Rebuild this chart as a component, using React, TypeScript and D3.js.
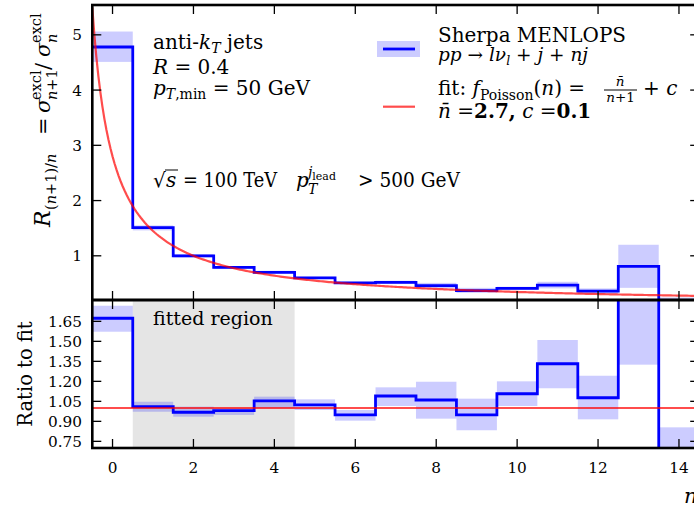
import React from "react";
import * as d3 from "d3";

// ---------- data ----------
const bins = [0, 1, 2, 3, 4, 5, 6, 7, 8, 9, 10, 11, 12, 13, 14];
// R_(n+1)/n (upper panel)
const rateVals = [4.78, 1.51, 1.0, 0.79, 0.7, 0.6, 0.51, 0.52, 0.46, 0.37, 0.41, 0.47, 0.36, 0.81, 0.14];
const rateLo = [4.51, 1.46, 0.97, 0.76, 0.68, 0.58, 0.49, 0.49, 0.41, 0.33, 0.38, 0.41, 0.31, 0.42, 0.05];
const rateHi = [5.06, 1.55, 1.03, 0.81, 0.73, 0.62, 0.53, 0.55, 0.51, 0.42, 0.44, 0.53, 0.41, 1.2, 0.245];
// ratio to fit (lower panel)
const ratioVals = [1.673, 1.01, 0.968, 0.98, 1.053, 1.023, 0.948, 1.09, 1.06, 0.948, 1.107, 1.332, 1.077, 2.76, 0.5];
const ratioLo = [1.572, 0.972, 0.935, 0.948, 0.998, 0.985, 0.905, 1.015, 0.92, 0.833, 1.015, 1.148, 0.915, 1.325, 0.1];
const ratioHi = [1.767, 1.047, 1.01, 0.998, 1.085, 1.065, 0.985, 1.155, 1.197, 1.07, 1.2, 1.51, 1.242, 4.0, 0.855];
// fit parameters (from legend) and fitted region
const fitNbar = 2.7;
const fitC = 0.1;
const fitRegion = [0.5, 4.5];
const xTicks = [0, 2, 4, 6, 8, 10, 12, 14];
const yTicksTop = [1, 2, 3, 4, 5];
const yTicksBottom = [0.75, 0.9, 1.05, 1.2, 1.35, 1.5, 1.65];

// ---------- layout ----------
const W = 694;
const H = 512;
const xL = 92.3;
const xR = 699.2;
const topY0 = 5;
const topY1 = 300;
const botY0 = 300;
const botY1 = 448;
const FONT = "DejaVu Serif";
const BLUE = "#0000ff";
const RED = "#ff0000";
const TICK = 9;

export default function App() {
  const x = d3.scaleLinear().domain([-0.5, 14.5]).range([xL, xR]);
  const yT = d3.scaleLinear().domain([0.2, 5.54]).range([topY1, topY0]);
  const yB = d3.scaleLinear().domain([0.7, 1.81]).range([botY1, botY0]);

  const stepPts = (vals: number[]) => {
    const pts: [number, number][] = bins.map((b, i) => [b - 0.5, vals[i]]);
    pts.push([bins[bins.length - 1] + 0.5, vals[vals.length - 1]]);
    return pts;
  };
  const stepTop = d3
    .line<[number, number]>()
    .x((d) => x(d[0]))
    .y((d) => yT(d[1]))
    .curve(d3.curveStepAfter)(stepPts(rateVals)) as string;
  const stepBot = d3
    .line<[number, number]>()
    .x((d) => x(d[0]))
    .y((d) => yB(d[1]))
    .curve(d3.curveStepAfter)(stepPts(ratioVals)) as string;

  const fitXs = d3.range(-0.5, 14.5001, 0.05);
  const fitPath = d3
    .line<number>()
    .x((d) => x(d))
    .y((d) => yT(fitNbar / (d + 1) + fitC))(fitXs) as string;

  const tickText = { fontFamily: FONT, fontSize: 15.3, fill: "#000" } as const;
  const txt = { fontFamily: FONT, fontSize: 20, fill: "#000" } as const;

  return (
    <svg
      width={W}
      height={H}
      style={{ position: "absolute", left: 0, top: 0, background: "#fff" }}
      xmlns="http://www.w3.org/2000/svg"
    >
      <defs>
        <clipPath id="clipTop">
          <rect x={xL} y={topY0} width={xR - xL} height={topY1 - topY0} />
        </clipPath>
        <clipPath id="clipBot">
          <rect x={xL} y={botY0} width={xR - xL} height={botY1 - botY0} />
        </clipPath>
      </defs>
      <rect x={0} y={0} width={W} height={H} fill="#fff" />

      {/* ---------- upper panel ---------- */}
      <g clipPath="url(#clipTop)">
        {bins.map((b, i) => (
          <rect
            key={"bt" + i}
            x={x(b - 0.5)}
            width={x(b + 0.5) - x(b - 0.5)}
            y={yT(rateHi[i])}
            height={yT(rateLo[i]) - yT(rateHi[i])}
            fill={BLUE}
            fillOpacity={0.2}
          />
        ))}
        <path d={stepTop} fill="none" stroke={BLUE} strokeWidth={2.8} />
        <path d={fitPath} fill="none" stroke={RED} strokeOpacity={0.7} strokeWidth={2.2} />
      </g>

      {/* ---------- lower panel ---------- */}
      <g clipPath="url(#clipBot)">
        <rect
          x={x(fitRegion[0])}
          width={x(fitRegion[1]) - x(fitRegion[0])}
          y={botY0}
          height={botY1 - botY0}
          fill="#e5e5e5"
        />
        {bins.map((b, i) => (
          <rect
            key={"bb" + i}
            x={x(b - 0.5)}
            width={x(b + 0.5) - x(b - 0.5)}
            y={yB(ratioHi[i])}
            height={yB(ratioLo[i]) - yB(ratioHi[i])}
            fill={BLUE}
            fillOpacity={0.2}
          />
        ))}
        <path d={stepBot} fill="none" stroke={BLUE} strokeWidth={2.8} />
        <line x1={xL} x2={xR} y1={yB(1)} y2={yB(1)} stroke={RED} strokeOpacity={0.7} strokeWidth={2.2} />
      </g>

      {/* ---------- ticks ---------- */}
      {xTicks.map((t) => (
        <g key={"xt" + t} stroke="#000" strokeWidth={1.3}>
          <line x1={x(t)} x2={x(t)} y1={topY0} y2={topY0 + TICK} />
          <line x1={x(t)} x2={x(t)} y1={topY1} y2={topY1 - TICK} />
          <line x1={x(t)} x2={x(t)} y1={botY0} y2={botY0 + TICK} />
          <line x1={x(t)} x2={x(t)} y1={botY1} y2={botY1 - TICK} />
        </g>
      ))}
      {yTicksTop.map((t) => (
        <g key={"yt" + t} stroke="#000" strokeWidth={1.3}>
          <line x1={xL} x2={xL + TICK} y1={yT(t)} y2={yT(t)} />
          <line x1={xR} x2={xR - TICK} y1={yT(t)} y2={yT(t)} />
        </g>
      ))}
      {yTicksBottom.map((t) => (
        <g key={"yb" + t} stroke="#000" strokeWidth={1.3}>
          <line x1={xL} x2={xL + TICK} y1={yB(t)} y2={yB(t)} />
          <line x1={xR} x2={xR - TICK} y1={yB(t)} y2={yB(t)} />
        </g>
      ))}

      {/* ---------- spines ---------- */}
      <rect x={xL} y={topY0} width={xR - xL} height={topY1 - topY0} fill="none" stroke="#000" strokeWidth={2.6} />
      <rect x={xL} y={botY0} width={xR - xL} height={botY1 - botY0} fill="none" stroke="#000" strokeWidth={2.6} />

      {/* ---------- tick labels ---------- */}
      {xTicks.map((t) => (
        <text key={"xl" + t} x={x(t)} y={472.5} textAnchor="middle" {...tickText}>
          {String(t)}
        </text>
      ))}
      {yTicksTop.map((t) => (
        <text key={"ytl" + t} x={82} y={yT(t) + 5.5} textAnchor="end" {...tickText}>
          {String(t)}
        </text>
      ))}
      {yTicksBottom.map((t) => (
        <text key={"ybl" + t} x={82} y={yB(t) + 5.5} textAnchor="end" {...tickText}>
          {t.toFixed(2)}
        </text>
      ))}

      {/* ---------- axis labels ---------- */}
      <g transform="translate(50,227) rotate(-90)" fontFamily={FONT} fill="#000">
        <text x={0} y={0} fontSize={22} fontStyle="italic">R</text>
        <text x={17} y={6} fontSize={14.5}>
          (<tspan fontStyle="italic">n</tspan>+1)/<tspan fontStyle="italic">n</tspan>
        </text>
        <text x={92} y={0} fontSize={21}>=</text>
        <text x={114} y={0} fontSize={21} fontStyle="italic">σ</text>
        <text x={127} y={-9} fontSize={14.5}>excl</text>
        <text x={127} y={7} fontSize={14.5}>
          <tspan fontStyle="italic">n</tspan>+1
        </text>
        <text x={157} y={0} fontSize={21}>/</text>
        <text x={170} y={0} fontSize={21} fontStyle="italic">σ</text>
        <text x={184} y={-9} fontSize={14.5}>excl</text>
        <text x={184} y={7} fontSize={14.5} fontStyle="italic">n</text>
      </g>
      <text
        transform="translate(32,374) rotate(-90)"
        textAnchor="middle"
        fontFamily={FONT}
        fontSize={19.5}
        fill="#000"
      >
        Ratio to fit
      </text>
      <text x={684} y={503} fontFamily={FONT} fontSize={21} fontStyle="italic" fill="#000">
        n
      </text>

      {/* ---------- annotations ---------- */}
      <text x={153} y={48.5} {...txt}>
        anti-<tspan fontStyle="italic">k</tspan>
        <tspan fontStyle="italic" fontSize={14} dy={4}>T</tspan>
        <tspan dy={-4}> jets</tspan>
      </text>
      <text x={153} y={73.5} {...txt}>
        <tspan fontStyle="italic">R</tspan> = 0.4
      </text>
      <text x={153} y={95} {...txt}>
        <tspan fontStyle="italic">p</tspan>
        <tspan fontSize={14} dy={4}>
          <tspan fontStyle="italic">T</tspan>,min
        </tspan>
        <tspan dy={-4}> = 50 GeV</tspan>
      </text>
      <text x={153} y={186.5} fontFamily={FONT} fontSize={20} fill="#000">√</text>
      <line x1={165} x2={178} y1={170} y2={170} stroke="#000" strokeWidth={1} />
      <text x={166} y={186.5} fontFamily={FONT} fontSize={20} fontStyle="italic" fill="#000">s</text>
      <text x={183} y={186.5} fontFamily={FONT} fontSize={20} fill="#000" textLength={94} lengthAdjust="spacingAndGlyphs">
        = 100 TeV
      </text>
      <text x={296} y={186.5} fontFamily={FONT} fontSize={20} fontStyle="italic" fill="#000">p</text>
      <text x={308} y={194} fontFamily={FONT} fontSize={14} fontStyle="italic" fill="#000">T</text>
      <text x={308} y={177} fontFamily={FONT} fontSize={14} fill="#000">
        <tspan fontStyle="italic">j</tspan>
        <tspan fontSize={11} dy={3}>lead</tspan>
      </text>
      <text x={358} y={186.5} fontFamily={FONT} fontSize={20} fill="#000" textLength={102} lengthAdjust="spacingAndGlyphs">
        &gt; 500 GeV
      </text>

      {/* ---------- legend ---------- */}
      <rect x={377} y={41} width={43} height={16} fill={BLUE} fillOpacity={0.2} />
      <line x1={383} x2={415} y1={49} y2={49} stroke={BLUE} strokeWidth={2.8} />
      <line x1={383} x2={415} y1={106.7} y2={106.7} stroke={RED} strokeOpacity={0.7} strokeWidth={2.2} />
      <text x={438} y={42} fontFamily={FONT} fontSize={20} fill="#000" textLength={188} lengthAdjust="spacingAndGlyphs">
        Sherpa MENLOPS
      </text>
      <text x={438} y={61} fontFamily={FONT} fontSize={18.5} fill="#000">
        <tspan fontStyle="italic">pp</tspan> → <tspan fontStyle="italic">lν</tspan>
        <tspan fontStyle="italic" fontSize={12.5} dy={4}>l</tspan>
        <tspan dy={-4}> + </tspan>
        <tspan fontStyle="italic">j</tspan> + <tspan fontStyle="italic">nj</tspan>
      </text>
      <text x={438} y={95} fontFamily={FONT} fontSize={20} fill="#000">
        fit: <tspan fontStyle="italic">f</tspan>
        <tspan fontSize={14} dy={5}>Poisson</tspan>
        <tspan dy={-5}>(</tspan>
        <tspan fontStyle="italic">n</tspan>) =
      </text>
      <text x={620} y={86} textAnchor="middle" fontFamily={FONT} fontSize={13.5} fontStyle="italic" fill="#000">
        n̄
      </text>
      <line x1={604} x2={637} y1={90} y2={90} stroke="#000" strokeWidth={1} />
      <text x={620.5} y={101.5} textAnchor="middle" fontFamily={FONT} fontSize={13.5} fill="#000">
        <tspan fontStyle="italic">n</tspan>+1
      </text>
      <text x={643} y={95} fontFamily={FONT} fontSize={20} fill="#000">
        + <tspan fontStyle="italic">c</tspan>
      </text>
      <text x={438} y={118} fontFamily={FONT} fontSize={20} fill="#000">
        <tspan fontStyle="italic">n̄</tspan> =<tspan fontWeight="bold">2.7,</tspan>
        <tspan>  </tspan>
        <tspan fontStyle="italic">c</tspan> =<tspan fontWeight="bold">0.1</tspan>
      </text>

      <text x={153} y={325} fontFamily={FONT} fontSize={19} fill="#000">fitted region</text>
    </svg>
  );
}
